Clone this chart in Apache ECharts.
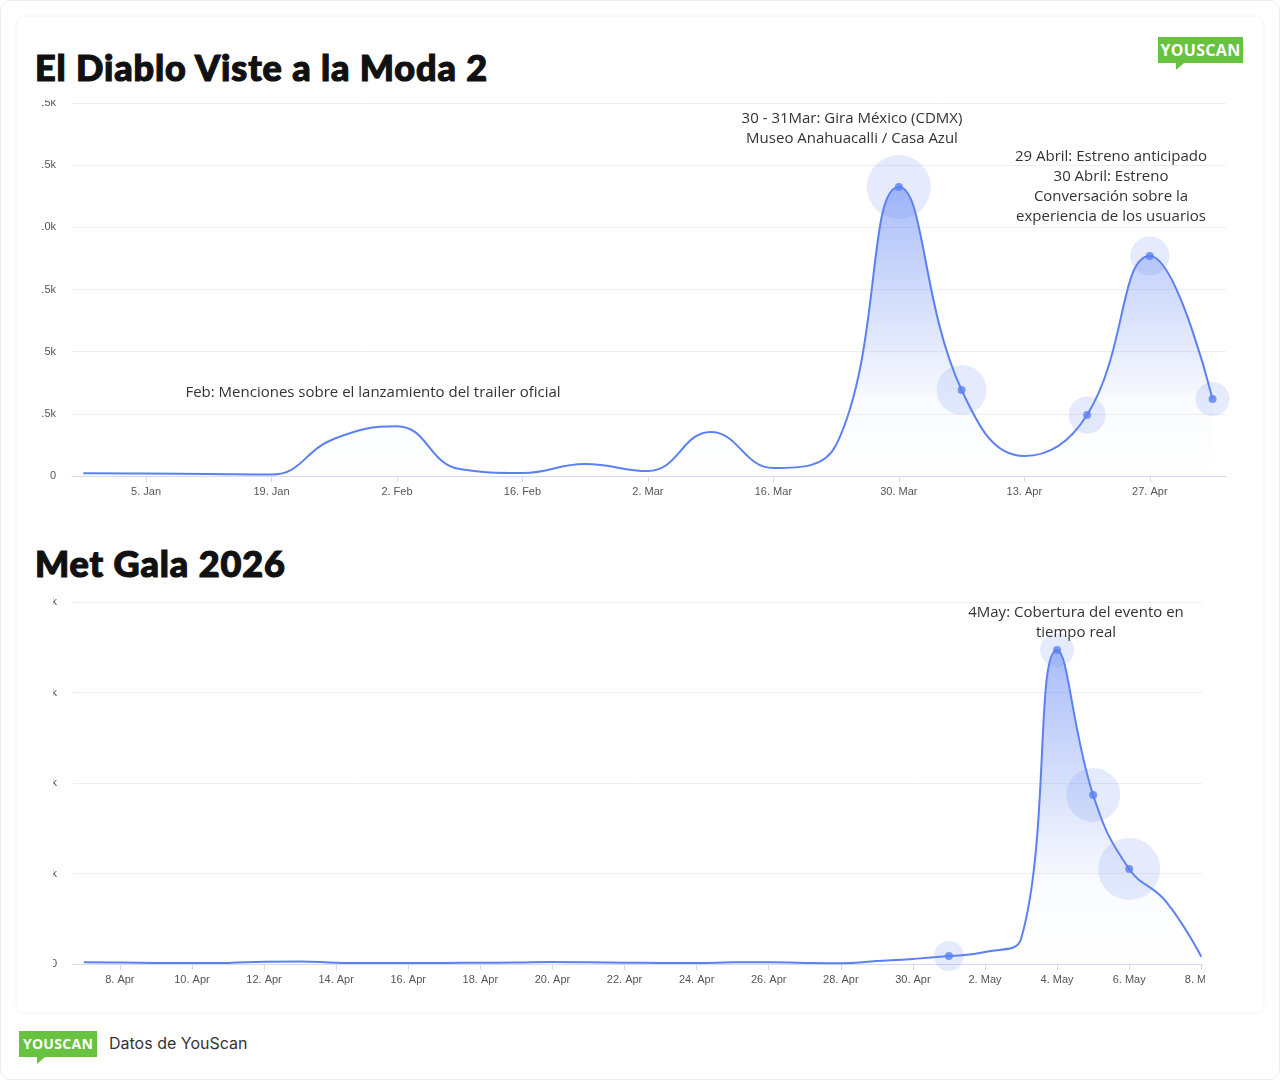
<!DOCTYPE html>
<html>
<head>
<meta charset="utf-8">
<script src="https://cdn.jsdelivr.net/npm/echarts@6/dist/echarts.min.js"></script>
<style>
  html, body { margin: 0; padding: 0; background: #fff; }
  .page { position: relative; width: 1278px; height: 1078px; border: 1px solid #ebebeb; border-radius: 10px; overflow: hidden; }
  .card { position: absolute; left: 17px; top: 16px; width: 1244px; height: 995px; border-radius: 6px;
          box-shadow: 0 0 5px rgba(0,0,0,0.08); background: #fff; }
  .title { position: absolute; left: 34px; font-family: Lato, 'Noto Sans', sans-serif; font-weight: 900;
           font-size: 36px; color: #111; letter-spacing: 0.9px; white-space: nowrap;
           -webkit-text-stroke: 1.2px #111; }
  .logo { position: absolute; background: #66c23f; color: #fff; font-family: 'Open Sans', sans-serif;
          font-weight: 700; font-size: 15px; text-align: center; letter-spacing: 0.3px; }
  .logo:after { content: ''; position: absolute; left: 18px; bottom: -7px; border-left: 0 solid transparent;
                border-right: 8px solid transparent; border-top: 7px solid #66c23f; }
  .chart { position: absolute; }
  .footer { position: absolute; left: 108px; top: 1032px; font-family: Inter, sans-serif; font-size: 16px; color: #333; }
</style>
</head>
<body>
<div class="page">
  <div class="card"></div>
  <div class="title" style="top:44px">El Diablo Viste a la Moda 2</div>
  <div class="title" style="top:540px">Met Gala 2026</div>
  <div class="logo" style="left:1157px;top:36px;width:85px;height:26px;line-height:26px;font-size:16px">YOUSCAN</div>
  <div class="chart" id="top" style="left:41px;top:99px;width:1191px;height:412px"></div>
  <div class="chart" id="bottom" style="left:52px;top:585px;width:1152px;height:415px"></div>
  <div class="logo" style="left:18px;top:1030px;width:78px;height:26px;line-height:26px;font-size:14px">YOUSCAN</div>
  <div class="footer">Datos de YouScan</div>
</div>
<script>
// El Diablo Viste a la Moda 2 - weekly mentions
var topDates = ['2025-12-29', '2026-01-05', '2026-01-12', '2026-01-19', '2026-01-26', '2026-02-02', '2026-02-09',
    '2026-02-16', '2026-02-23', '2026-03-02', '2026-03-09', '2026-03-16', '2026-03-23', '2026-03-30',
    '2026-04-06', '2026-04-13', '2026-04-20', '2026-04-27', '2026-05-04'];
var topValues = [110, 100, 80, 60, 1500, 2000, 280, 120, 480, 200, 1770, 320, 1250, 11620, 3460, 800, 2450, 8850, 3100];
var topTicks = ['2026-01-05', '2026-01-19', '2026-02-02', '2026-02-16', '2026-03-02', '2026-03-16', '2026-03-30',
    '2026-04-13', '2026-04-27'];
var topHighlight = ['2026-03-30', '2026-04-06', '2026-04-20', '2026-04-27', '2026-05-04'];
var topHalo = [64, 50, 37, 39, 34];

// Met Gala 2026 - daily mentions
var bottomDates = ['2026-04-07', '2026-04-08', '2026-04-09', '2026-04-10', '2026-04-11', '2026-04-12', '2026-04-13',
    '2026-04-14', '2026-04-15', '2026-04-16', '2026-04-17', '2026-04-18', '2026-04-19', '2026-04-20', '2026-04-21',
    '2026-04-22', '2026-04-23', '2026-04-24', '2026-04-25', '2026-04-26', '2026-04-27', '2026-04-28', '2026-04-29',
    '2026-04-30', '2026-05-01', '2026-05-02', '2026-05-03', '2026-05-04', '2026-05-05', '2026-05-06', '2026-05-07',
    '2026-05-08'];
var bottomValues = [90, 80, 60, 50, 60, 120, 140, 70, 50, 60, 60, 70, 80, 110, 90, 70, 60, 60, 90, 100, 60, 40, 160,
    280, 440, 660, 1380, 17350, 9340, 5250, 3500, 400];
var bottomTicks = ['2026-04-08', '2026-04-10', '2026-04-12', '2026-04-14', '2026-04-16', '2026-04-18', '2026-04-20',
    '2026-04-22', '2026-04-24', '2026-04-26', '2026-04-28', '2026-04-30', '2026-05-02', '2026-05-04', '2026-05-06',
    '2026-05-08'];
var bottomHighlight = ['2026-05-01', '2026-05-04', '2026-05-05', '2026-05-06'];
var bottomHalo = [30, 34, 54, 62];

var DAY = 86400000;
var months = ['Jan', 'Feb', 'Mar', 'Apr', 'May', 'Jun', 'Jul', 'Aug', 'Sep', 'Oct', 'Nov', 'Dec'];
var lineColor = '#5b80f2';

function ts(s) {
    var p = s.split('-');
    return Date.UTC(+p[0], +p[1] - 1, +p[2]);
}
function fmtDate(v) {
    var d = new Date(v);
    return d.getUTCDate() + '. ' + months[d.getUTCMonth()];
}
function kFmt(v) {
    return v === 0 ? '0' : (v / 1000) + 'k';
}

function buildOption(dates, values, ticks, highlight, halo, xr, yMax, yStep, grid, notes) {
    var pts = dates.map(function(d, i) { return [ts(d), values[i]]; });
    var hl = highlight.map(function(d, i) {
        return { value: [ts(d), values[dates.indexOf(d)]], symbolSize: halo[i] };
    });
    var dots = highlight.map(function(d) { return [ts(d), values[dates.indexOf(d)]]; });
    var tickVals = ticks.map(ts);
    var axisGrey = { fontFamily: 'Liberation Sans, Arial, sans-serif', fontSize: 11, color: '#555' };
    grid.outerBoundsMode = 'none';
    grid.containLabel = false;
    return {
        animation: false,
        grid: grid,
        xAxis: {
            type: 'value',
            min: xr[0], max: xr[1],
            axisLine: { show: true, lineStyle: { color: '#d3dcef', width: 1 } },
            axisTick: { show: true, length: 6, customValues: tickVals, lineStyle: { color: '#d3dcef' } },
            axisLabel: Object.assign({ customValues: tickVals, margin: 10, formatter: fmtDate, showMaxLabel: true,
                hideOverlap: false }, axisGrey),
            splitLine: { show: false }
        },
        yAxis: {
            type: 'value',
            min: 0, max: yMax, interval: yStep,
            axisLine: { show: false },
            axisTick: { show: false },
            axisLabel: Object.assign({ margin: 16, formatter: kFmt }, axisGrey),
            splitLine: { lineStyle: { color: '#efefef' } }
        },
        series: [{
            type: 'line',
            data: pts,
            smooth: 0.45,
            symbol: 'none',
            lineStyle: { color: lineColor, width: 2 },
            areaStyle: {
                color: new echarts.graphic.LinearGradient(0, 0, 0, 1, [
                    { offset: 0, color: 'rgba(91,128,242,0.75)' },
                    { offset: 0.75, color: 'rgba(91,128,242,0.04)' },
                    { offset: 1, color: 'rgba(91,128,242,0)' }
                ])
            },
            z: 2
        }, {
            type: 'scatter',
            data: hl,
            itemStyle: { color: 'rgba(110,140,240,0.22)' },
            z: 3
        }, {
            type: 'scatter',
            data: dots,
            symbolSize: 8,
            itemStyle: { color: lineColor },
            z: 4
        }],
        graphic: notes.map(function(n) {
            return {
                type: 'text', x: n[0], y: n[1], z: 10,
                style: {
                    text: n[2], textAlign: 'center', textVerticalAlign: 'top',
                    font: '15px "Open Sans", sans-serif', fill: '#333', lineHeight: 20
                }
            };
        })
    };
}

var t0 = ts('2026-01-05');
var topChart = echarts.init(document.getElementById('top'));
topChart.setOption(buildOption(topDates, topValues, topTicks, topHighlight, topHalo,
    [t0 - 8.26 * DAY, t0 + 120.5 * DAY], 15000, 2500,
    { left: 30, right: 7, top: 3, bottom: 36 },
    [[810, 9, '30 - 31Mar: Gira México (CDMX)\nMuseo Anahuacalli / Casa Azul'],
     [1069, 47, '29 Abril: Estreno anticipado\n30 Abril: Estreno\nConversación sobre la\nexperiencia de los usuarios'],
     [331, 283, 'Feb: Menciones sobre el lanzamiento del trailer oficial']]));

var b0 = ts('2026-04-08');
var bottomChart = echarts.init(document.getElementById('bottom'));
bottomChart.setOption(buildOption(bottomDates, bottomValues, bottomTicks, bottomHighlight, bottomHalo,
    [b0 - 1.3 * DAY, b0 + 30.02 * DAY], 20000, 5000,
    { left: 20, right: 3, top: 16, bottom: 37 },
    [[1023, 17, '4May: Cobertura del evento en\ntiempo real']]));
</script>
</body>
</html>
